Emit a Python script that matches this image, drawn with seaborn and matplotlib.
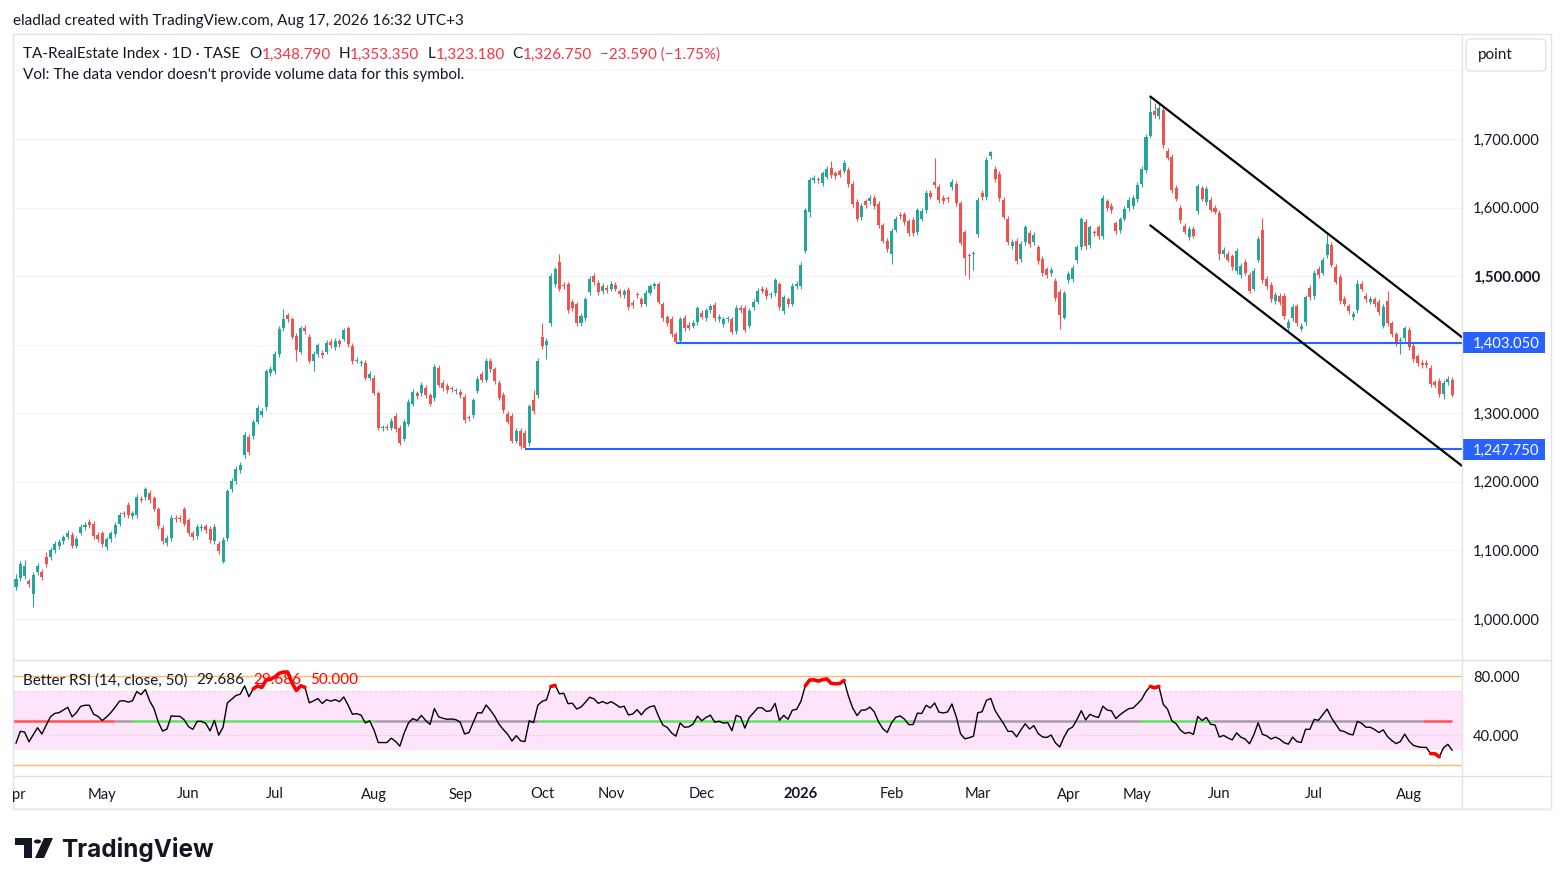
import numpy as np
import pandas as pd
import matplotlib
matplotlib.use("Agg")
import matplotlib.pyplot as plt
import seaborn as sns
from matplotlib import transforms
from matplotlib.patches import Rectangle, FancyBboxPatch, Polygon, Circle
from matplotlib.lines import Line2D
from matplotlib.transforms import Bbox, TransformedBbox

# ---------------- data ----------------
opens = [
    1047, 1060, 1063, 1055, 1036, 1068, 1069, 1091, 1090, 1100,
    1106, 1114, 1120, 1123, 1107, 1126, 1134, 1142, 1139, 1123,
    1125, 1105, 1117, 1124, 1139, 1154, 1167, 1150, 1151, 1175,
    1178, 1184, 1176, 1160, 1133, 1111, 1118, 1148, 1147, 1160,
    1144, 1125, 1121, 1133, 1135, 1131, 1114, 1110, 1083, 1118,
    1189, 1201, 1217, 1239, 1266, 1267, 1288, 1298, 1309, 1359,
    1361, 1386, 1424, 1443, 1437, 1413, 1390, 1425, 1412, 1376,
    1386, 1388, 1390, 1404, 1396, 1405, 1409, 1424, 1398, 1377,
    1373, 1374, 1352, 1352, 1329, 1278, 1280, 1279, 1296, 1279,
    1263, 1285, 1314, 1329, 1329, 1337, 1326, 1322, 1366, 1344,
    1340, 1336, 1332, 1331, 1324, 1294, 1297, 1333, 1358, 1349,
    1377, 1364, 1344, 1327, 1299, 1296, 1260, 1274, 1271, 1256,
    1320, 1326, 1411, 1399, 1431, 1488, 1520, 1487, 1488, 1463,
    1459, 1432, 1439, 1477, 1500, 1490, 1478, 1483, 1482, 1487,
    1478, 1472, 1480, 1461, 1473, 1466, 1460, 1476, 1485, 1488,
    1459, 1440, 1438, 1415, 1406, 1439, 1429, 1428, 1433, 1447,
    1439, 1450, 1458, 1437, 1430, 1437, 1437, 1420, 1454, 1454,
    1428, 1455, 1463, 1482, 1480, 1472, 1475, 1488, 1449, 1466,
    1460, 1486, 1485, 1537, 1594, 1640, 1641, 1636, 1645, 1658,
    1650, 1653, 1654, 1655, 1635, 1608, 1586, 1609, 1609, 1614,
    1605, 1574, 1552, 1533, 1568, 1589, 1590, 1580, 1582, 1564,
    1584, 1596, 1622, 1638, 1630, 1614, 1613, 1630, 1635, 1606,
    1564, 1530, 1532, 1561, 1622, 1615, 1675, 1657, 1649, 1611,
    1584, 1544, 1551, 1525, 1550, 1563, 1550, 1542, 1525, 1510,
    1504, 1493, 1477, 1439, 1494, 1496, 1523, 1542, 1579, 1545,
    1564, 1571, 1558, 1609, 1603, 1577, 1567, 1584, 1599, 1602,
    1612, 1634, 1655, 1705, 1741, 1733, 1742, 1683, 1674, 1629,
    1600, 1573, 1557, 1569, 1595, 1628, 1608, 1611, 1600, 1592,
    1532, 1532, 1529, 1507, 1502, 1521, 1502, 1482, 1524, 1567,
    1496, 1487, 1464, 1471, 1471, 1424, 1439, 1456, 1423, 1433,
    1483, 1471, 1511, 1505, 1531, 1546, 1514, 1499, 1467, 1456,
    1440, 1450, 1489, 1471, 1463, 1466, 1463, 1428, 1464, 1431,
    1415, 1406, 1410, 1422, 1398, 1383, 1374, 1374, 1366, 1345,
    1347, 1328, 1345, 1348.79,
]
closes = [
    1059, 1080, 1078, 1051, 1064, 1078, 1061, 1080, 1101, 1110,
    1112, 1119, 1126, 1107, 1117, 1134, 1137, 1137, 1121, 1117,
    1109, 1116, 1125, 1137, 1152, 1153, 1151, 1154, 1178, 1174,
    1189, 1173, 1161, 1135, 1114, 1118, 1147, 1146, 1146, 1139,
    1125, 1119, 1134, 1134, 1130, 1115, 1134, 1099, 1115, 1187,
    1202, 1219, 1225, 1269, 1243, 1288, 1308, 1304, 1361, 1365,
    1387, 1423, 1437, 1437, 1412, 1393, 1424, 1420, 1377, 1387,
    1399, 1385, 1403, 1399, 1406, 1401, 1421, 1401, 1376, 1378,
    1374, 1352, 1358, 1330, 1279, 1279, 1279, 1289, 1277, 1257,
    1288, 1317, 1331, 1325, 1341, 1326, 1314, 1368, 1342, 1337,
    1334, 1335, 1333, 1326, 1290, 1293, 1319, 1350, 1349, 1377,
    1364, 1347, 1323, 1305, 1288, 1260, 1274, 1252, 1249, 1310,
    1303, 1377, 1398, 1406, 1500, 1510, 1482, 1486, 1450, 1453,
    1432, 1442, 1466, 1496, 1491, 1477, 1486, 1480, 1489, 1482,
    1474, 1478, 1455, 1458, 1472, 1459, 1476, 1485, 1488, 1463,
    1439, 1432, 1415, 1404, 1437, 1424, 1425, 1432, 1453, 1441,
    1450, 1456, 1439, 1441, 1437, 1438, 1419, 1454, 1450, 1422,
    1449, 1463, 1479, 1479, 1471, 1473, 1494, 1455, 1469, 1459,
    1486, 1489, 1517, 1596, 1640, 1643, 1640, 1650, 1656, 1647,
    1646, 1648, 1665, 1634, 1605, 1584, 1603, 1604, 1614, 1602,
    1574, 1552, 1539, 1566, 1584, 1588, 1579, 1563, 1563, 1596,
    1595, 1622, 1616, 1633, 1611, 1609, 1612, 1637, 1606, 1548,
    1526, 1529, 1533, 1611, 1615, 1670, 1681, 1641, 1614, 1587,
    1550, 1550, 1522, 1547, 1571, 1547, 1560, 1522, 1504, 1501,
    1509, 1468, 1443, 1475, 1503, 1512, 1542, 1583, 1544, 1571,
    1563, 1558, 1614, 1599, 1596, 1566, 1583, 1598, 1611, 1614,
    1633, 1656, 1703, 1739, 1735, 1745, 1691, 1673, 1626, 1613,
    1582, 1565, 1569, 1559, 1631, 1613, 1627, 1597, 1594, 1532,
    1538, 1524, 1513, 1537, 1515, 1505, 1479, 1508, 1554, 1494,
    1485, 1466, 1473, 1462, 1442, 1433, 1455, 1431, 1427, 1469,
    1469, 1505, 1502, 1524, 1547, 1517, 1492, 1464, 1460, 1449,
    1445, 1489, 1482, 1467, 1467, 1459, 1448, 1455, 1431, 1415,
    1402, 1407, 1424, 1397, 1379, 1373, 1370, 1370, 1343, 1342,
    1328, 1344, 1350.34, 1326.75,
]
# notable wick extremes (bar number -> price)
high_marks = {1: 1066, 3: 1086, 8: 1098, 29: 1183, 31: 1193, 50: 1190, 62: 1428,
              63: 1452, 64: 1447, 98: 1372, 121: 1334, 123: 1432, 127: 1532,
              190: 1668, 193: 1670, 214: 1672, 227: 1683, 264: 1763, 265: 1752,
              266: 1752, 290: 1585, 305: 1564, 312: 1494, 319: 1479, 334: 1353.35}
low_marks = {5: 1018, 49: 1082, 66: 1377, 70: 1362, 85: 1275, 90: 1254,
             119: 1247.75, 124: 1379, 154: 1403.05, 184: 1534, 185: 1586,
             204: 1518, 220: 1545, 221: 1501, 222: 1496, 223: 1509, 243: 1423,
             244: 1437, 280: 1524, 296: 1420, 299: 1420, 322: 1387, 332: 1321,
             334: 1323.18}
default_wick = 4

month_labels = ["Apr", "May", "Jun", "Jul", "Aug", "Sep", "Oct", "Nov", "Dec",
                "2026", "Feb", "Mar", "Apr", "May", "Jun", "Jul", "Aug"]
month_bars = [0.7, 21, 41, 61, 84, 104, 123, 139, 160, 183, 204, 224, 245, 261,
              280, 302, 324]

price_ticks = [1000, 1100, 1200, 1300, 1500, 1600, 1700]
grid_levels = [1000, 1100, 1200, 1300, 1400, 1500, 1600, 1700, 1800]
support_levels = [1403.05, 1247.75]
support_start_bar = [154, 119]
upper_channel_bars = [264, 336.3]
upper_channel_prices = [1762, 1410.8]
lower_channel_bars = [264, 336.3]
lower_channel_prices = [1574, 1223.2]

# Better RSI settings and mid-line regime colouring (bar ranges)
rsi_len = 14
rsi_seed_gain, rsi_seed_loss = 4.0, 7.5
mid_seg_start = [0.3, 24, 28, 84, 122.3, 208.3, 261.6, 278.5, 327.2]
mid_seg_end = [24, 28, 84, 122.3, 208.3, 261.6, 278.5, 327.2, 334]
mid_seg_kind = ["bear", "neutral", "bull", "neutral", "bull", "neutral", "bull",
                "neutral", "bear"]

# ---------------- figure ----------------
sns.set_theme(style="white")
plt.rcParams['font.family'] = ['Lato', 'DejaVu Sans']

W, H = 1564, 885
fig = plt.figure(figsize=(W / 100, H / 100), dpi=100)
fig.patch.set_facecolor("white")

TXT_DY = 1.5  # small downward nudge of text centres (pixels)


def fx(x):
    return x / W


def fy(y):
    return 1 - y / H


DARK = "#131722"
RED_TXT = "#f23645"
UP, DOWN = "#26a69a", "#ef5350"
BORDER = "#e0e3eb"
GRID = "#f0f3fa"
BLUE = "#2962ff"

L, R = 13, 1462
ax = fig.add_axes([fx(L), fy(659), (R - L) / W, (659 - 35) / H])
axr = fig.add_axes([fx(L), fy(775), (R - L) / W, (775 - 660) / H])
for a in (ax, axr):
    a.set_axis_off()

n = len(closes)
idx = np.arange(1, n + 1)
o = np.array(opens, float)
c = np.array(closes, float)
hi = np.maximum(o, c) + default_wick
lo = np.minimum(o, c) - default_wick
for k, v in high_marks.items():
    hi[k - 1] = max(v, max(o[k - 1], c[k - 1]))
for k, v in low_marks.items():
    lo[k - 1] = min(v, min(o[k - 1], c[k - 1]))
up = c >= o
cols = np.where(up, UP, DOWN)

xl = (0.3044, 336.27)
ax.set_xlim(*xl)
axr.set_xlim(*xl)
ax.set_ylim(941.7, 1851.7)
axr.set_ylim(13.4, 90.8)

for p in grid_levels:
    ax.axhline(p, color=GRID, lw=1, zorder=0)

ax.vlines(idx, lo, hi, colors=cols, lw=0.8, zorder=2)
ax.bar(idx, np.maximum(np.abs(c - o), 1.4), bottom=np.minimum(o, c), width=0.7,
       color=cols, lw=0, zorder=3)

# support lines
for lvl, sb in zip(support_levels, support_start_bar):
    ax.hlines(lvl, sb, xl[1], color=BLUE, lw=1.5, zorder=4)

# channel
sns.lineplot(x=upper_channel_bars, y=upper_channel_prices, ax=ax, color="black",
             lw=1.6, zorder=5)
sns.lineplot(x=lower_channel_bars, y=lower_channel_prices, ax=ax, color="black",
             lw=1.6, zorder=5)

# right price scale
tr = transforms.blended_transform_factory(ax.transAxes, ax.transData)
tr_txt = transforms.offset_copy(tr, fig=fig, y=-TXT_DY, units="dots")
lab_x = (1473 - L) / (R - L)
FS = 10.6      # price-scale labels
FT = 11.0      # header / legend texts
for p in price_ticks:
    ax.text(lab_x, p, f"{p:,.3f}", transform=tr_txt, va="center", ha="left",
            fontsize=FS, color=DARK, fontweight="bold" if p == 1500 else "normal",
            clip_on=False)
box_w = (1545 - R) / (R - L)
for lvl in support_levels:
    ax.add_patch(Rectangle((1.0, lvl - 15.3), box_w, 30.6, transform=tr,
                           facecolor=BLUE, edgecolor="none", clip_on=False, zorder=6))
    ax.text(lab_x, lvl, f"{lvl:,.3f}", transform=tr_txt, va="center", ha="left",
            fontsize=FS, color="white", clip_on=False, zorder=7)

# ---------------- RSI pane ----------------
gains, losses = rsi_seed_gain, rsi_seed_loss
rsi = []
for i in range(n):
    if i > 0:
        d = c[i] - c[i - 1]
        gains = (gains * (rsi_len - 1) + max(d, 0)) / rsi_len
        losses = (losses * (rsi_len - 1) + max(-d, 0)) / rsi_len
    rsi.append(100 - 100 / (1 + gains / losses))
rsi = np.array(rsi)

axr.axhspan(30, 70, color="#fde4fb", lw=0, zorder=0)
axr.axhline(70, color="#f5d0f0", lw=1, ls=(0, (2, 2)), zorder=0.5)
axr.axhline(40, color="#f0dbee", lw=1, zorder=0.5)
axr.axhline(80, color="#ffb870", lw=1, zorder=1)
axr.axhline(20, color="#ffb870", lw=1, zorder=1)
kind_col = {"bear": "#ff5252", "neutral": "#a39cab", "bull": "#5ee35e"}
for s, e, k in zip(mid_seg_start, mid_seg_end, mid_seg_kind):
    axr.hlines(50, s, e, color=kind_col[k], lw=1.8, zorder=2)

rsi_df = pd.DataFrame({"bar": idx, "rsi": rsi})
sns.lineplot(data=rsi_df, x="bar", y="rsi", ax=axr, color="black", lw=1, zorder=3)
ob = np.where(rsi > 70, rsi, np.nan)
os_ = np.where(rsi < 30, rsi, np.nan)
axr.plot(idx, ob, color="#ff0000", lw=2.6, zorder=4, solid_capstyle="round")
axr.plot(idx, os_, color="#ff0000", lw=2.6, zorder=4, solid_capstyle="round")

trr = transforms.blended_transform_factory(axr.transAxes, axr.transData)
trr_txt = transforms.offset_copy(trr, fig=fig, y=-TXT_DY, units="dots")
for v in (80, 40):
    axr.text(lab_x, v, f"{v:.3f}", transform=trr_txt, va="center", ha="left",
             fontsize=FS, color=DARK, clip_on=False)

# ---------------- frame lines ----------------
def hline_px(y, x0, x1, col=BORDER, lw=1):
    fig.add_artist(Line2D([fx(x0), fx(x1)], [fy(y), fy(y)], color=col, lw=lw,
                          transform=fig.transFigure))


def vline_px(x, y0, y1, col=BORDER, lw=1):
    fig.add_artist(Line2D([fx(x), fx(x)], [fy(y0), fy(y1)], color=col, lw=lw,
                          transform=fig.transFigure))


hline_px(34, 13, 1551)
hline_px(808.5, 13, 1551, col="#eceef2", lw=2)
hline_px(659.5, 13, 1551)
hline_px(775.5, 13, 1551)
vline_px(13, 34, 808)
vline_px(1551, 34, 808)
vline_px(1462, 34, 808)

# time axis labels
trx = transforms.blended_transform_factory(axr.transData, fig.transFigure)
clipbox = TransformedBbox(Bbox([[fx(13.5), 0], [1, 1]]), fig.transFigure)
for lab, b in zip(month_labels, month_bars):
    t = fig.text(b, fy(793 + TXT_DY), lab, transform=trx, ha="center", va="center",
                 fontsize=FS, color=DARK,
                 fontweight="bold" if lab == "2026" else "normal")
    t.set_clip_box(clipbox)
    t.set_clip_on(True)

# ---------------- header texts ----------------
renderer = fig.canvas.get_renderer()


def seq_text(x, y, pieces, size):
    for s, col, gap in pieces:
        x += gap
        t = fig.text(fx(x), fy(y + TXT_DY), s, color=col, fontsize=size,
                     va="center", ha="left")
        bb = t.get_window_extent(renderer=renderer)
        x = bb.x1


fig.text(fx(13), fy(19 + TXT_DY),
         "eladlad created with TradingView.com, Aug 17, 2026 16:32 UTC+3",
         fontsize=FT, color=DARK, va="center", ha="left")

seq_text(23, 53, [("TA-RealEstate Index · 1D · TASE", DARK, 0),
                  ("O", DARK, 9), ("1,348.790", RED_TXT, 0),
                  ("H", DARK, 8), ("1,353.350", RED_TXT, 0),
                  ("L", DARK, 8), ("1,323.180", RED_TXT, 0),
                  ("C", DARK, 8), ("1,326.750", RED_TXT, 0),
                  ("−23.590 (−1.75%)", RED_TXT, 8)], FT)
fig.text(fx(23), fy(74 + TXT_DY),
         "Vol: The data vendor doesn't provide volume data for this symbol.",
         fontsize=FT, color=DARK, va="center", ha="left")

seq_text(23, 679, [("Better RSI (14, close, 50)", DARK, 0),
                   ("29.686", DARK, 9), ("29.686", "#ff0000", 9),
                   ("50.000", "#ff0000", 9)], FT)

# "point" box
fig.add_artist(FancyBboxPatch((fx(1466), fy(71)), fx(80), 32 / H,
                              boxstyle="round,pad=0,rounding_size=0.004",
                              transform=fig.transFigure, facecolor="white",
                              edgecolor=BORDER, lw=1))
fig.text(fx(1495), fy(54 + TXT_DY), "point", fontsize=FT, color=DARK, ha="center",
         va="center")

# TradingView logo
logo = [Polygon([[fx(15), fy(838)], [fx(32), fy(838)], [fx(32), fy(858)],
                 [fx(24), fy(858)], [fx(24), fy(845)], [fx(15), fy(845)]],
                closed=True, transform=fig.transFigure, facecolor=DARK, edgecolor="none"),
        Circle((fx(37.5), fy(841.5)), 3.6 / W, transform=fig.transFigure,
               facecolor=DARK, edgecolor="none"),
        Polygon([[fx(44), fy(838)], [fx(53), fy(838)], [fx(44), fy(858)],
                 [fx(35), fy(858)]], closed=True, transform=fig.transFigure,
                facecolor=DARK, edgecolor="none")]
for p in logo:
    fig.add_artist(p)
fig.text(fx(61), fy(848 + TXT_DY), "TradingView", fontsize=17.5, fontweight="bold",
         color=DARK, ha="left", va="center", family=["Inter", "DejaVu Sans"])

fig.savefig("out.png", dpi=100, facecolor="white")
